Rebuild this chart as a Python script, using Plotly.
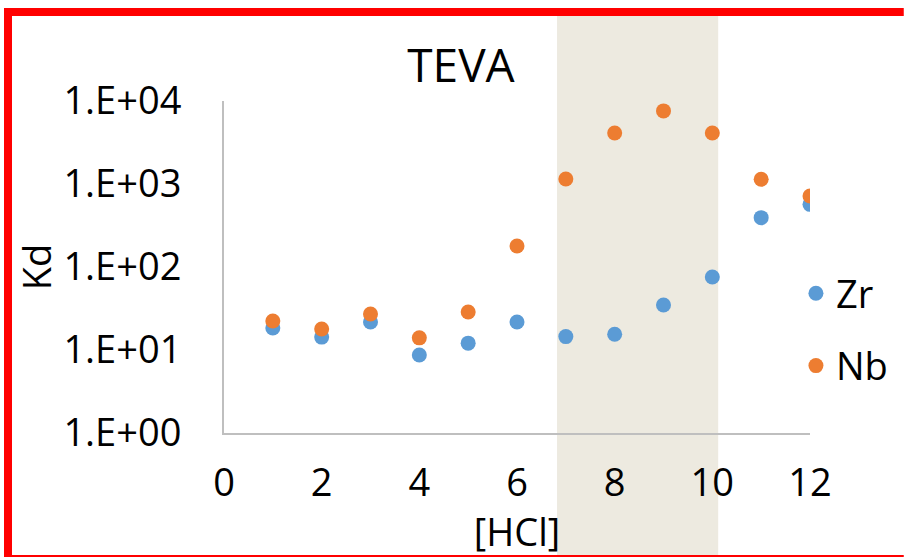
import plotly.graph_objects as go

hcl = [1, 2, 3, 4, 5, 6, 7, 8, 9, 10, 11, 12]
zr_kd = [18.4, 14.3, 21.7, 8.7, 12.1, 21.7, 14.5, 15.5, 34.8, 75.8, 393, 569]
nb_kd = [22.4, 17.9, 27.2, 14.0, 28.7, 179, 1150, 4110, 7600, 4110, 1140, 717]
y_tickvals = [1, 10, 100, 1000, 10000]
y_ticktext = ["1.E+00", "1.E+01", "1.E+02", "1.E+03", "1.E+04"]
x_tickvals = [0, 2, 4, 6, 8, 10, 12]
band = [6.82, 10.12]

FONT = "Open Sans"
fig = go.Figure()
fig.add_trace(go.Scatter(x=hcl, y=zr_kd, mode="markers", name="Zr",
                         legendgroup="a",
                         marker=dict(size=15, color="#5B9BD5")))
fig.add_trace(go.Scatter(x=hcl, y=nb_kd, mode="markers", name="Nb",
                         legendgroup="b",
                         marker=dict(size=15, color="#ED7D31")))

# shaded region spanning full height
fig.add_shape(type="rect", xref="x", yref="paper", x0=band[0], x1=band[1],
              y0=-0.4, y1=1.268, fillcolor="#EDEAE0", line=dict(width=0),
              layer="below")
# red frame (left, top, bottom)
red = dict(color="#FF0000", width=8)
fig.add_shape(type="line", xref="paper", yref="paper",
              x0=-0.3754, x1=1.16, y0=1.2681, y1=1.2681, line=red, layer="above")
fig.add_shape(type="line", xref="paper", yref="paper",
              x0=-0.3686, x1=-0.3686, y0=1.28, y1=-0.39, line=red, layer="above")
fig.add_shape(type="line", xref="paper", yref="paper",
              x0=-0.3754, x1=1.16, y0=-0.3795, y1=-0.3795, line=red, layer="above")

fig.update_layout(
    width=909, height=557,
    margin=dict(l=224, r=99, t=101, b=124),
    paper_bgcolor="white", plot_bgcolor="rgba(0,0,0,0)",
    font=dict(family=FONT, size=38, color="black"),
    title=dict(text="TEVA", font=dict(size=46, family=FONT, color="black"),
               x=0.4044, xref="paper", xanchor="center",
               y=0.8815, yref="container", yanchor="middle"),
    showlegend=True,
    legend=dict(x=0.976, xanchor="left", y=0.515, yanchor="top",
                font=dict(size=38), tracegroupgap=20,
                traceorder="grouped", bgcolor="rgba(0,0,0,0)"),
    xaxis=dict(range=[0, 12], tickvals=x_tickvals, showgrid=False,
               zeroline=False, showline=True, linecolor="#BFBFBF", linewidth=2,
               ticks="", ticklabelstandoff=15,
               title=dict(text="[HCl]", standoff=0, font=dict(size=38))),
    yaxis=dict(type="log", range=[0, 4], tickvals=y_tickvals, ticktext=y_ticktext,
               showgrid=False, zeroline=False, showline=True, linecolor="#BFBFBF",
               linewidth=2, ticks="", ticklabelstandoff=33,
               title=dict(text="Kd", standoff=0, font=dict(size=38))),
)
fig.write_html("out.html")
